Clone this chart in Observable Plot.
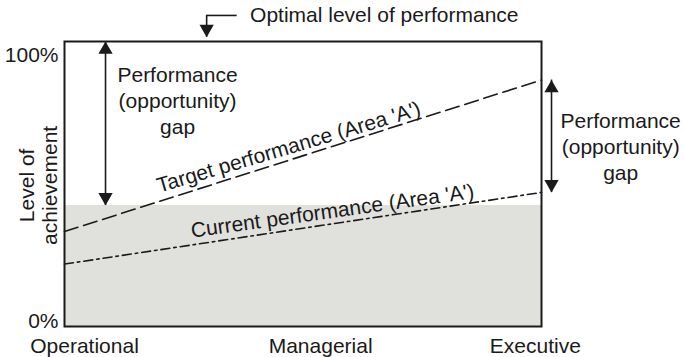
<!DOCTYPE html>
<html>
<head>
<meta charset="utf-8">
<script src="https://cdn.jsdelivr.net/npm/d3@7"></script>
<script src="https://cdn.jsdelivr.net/npm/@observablehq/plot@0.6"></script>
<style>
  html, body { margin: 0; padding: 0; background: #fff; }
  #chart svg { display: block; }
</style>
</head>
<body>
<div id="chart"></div>
<script>
// ---- data ----
const levels = ["Operational", "Managerial", "Executive"];
const levelTicks = [0.042, 0.537, 0.987];        // x positions (0 = Operational edge, 1 = Executive edge)
const levelEnds = [0, 1];
const targetPerformance = [35, 90.8];            // % of achievement at Operational / Executive
const currentPerformance = [23, 49.4];
const currentLevel = 44.6;                       // shaded area 'A' top
const optimalLevel = 105;                        // top of frame = optimal
const yTickTop = [100];
const yTickBottom = [0];
const gapLabel = "Performance\n(opportunity)\ngap";
const yTitle = "Level of\nachievement";
const optimalLabel = "Optimal level of performance";
const targetLabel = "Target performance (Area 'A')";
const currentLabel = "Current performance (Area 'A')";

const ink = "#1a1a1a";
const FS = 21;
const headR = 5.3;
const tip = 8.2;

const chart = Plot.plot({
  width: 684,
  height: 357,
  marginLeft: 64,
  marginRight: 143,
  marginTop: 41,
  marginBottom: 31,
  style: { fontFamily: "'Liberation Sans', Arial, sans-serif", color: ink, background: "#fff" },
  x: { domain: [0, 1], axis: null },
  y: { domain: [0, optimalLevel], axis: null },
  marks: [
    // shaded current area
    Plot.rect([currentLevel], { x1: () => 0, x2: () => 1, y1: () => 0, y2: d => d, fill: "#e0e0dc" }),
    // target (dashed)
    Plot.line(levelEnds, { x: d => d, y: (d, i) => targetPerformance[i], stroke: ink, strokeWidth: 1.6, strokeDasharray: "14,6" }),
    // current (dash-dot)
    Plot.line(levelEnds, { x: d => d, y: (d, i) => currentPerformance[i], stroke: ink, strokeWidth: 1.6, strokeDasharray: "9,4,2.5,4" }),
    // line labels
    Plot.text([targetLabel], { x: () => 0.47, y: () => 66, text: d => d, rotate: -16.5, fontSize: FS, fill: ink }),
    Plot.text([currentLabel], { x: () => 0.562, y: () => 42.5, text: d => d, rotate: -8, fontSize: FS, fill: ink }),
    // left gap arrow
    Plot.ruleX([0.086], { x: d => d, y1: () => optimalLevel, y2: () => currentLevel, stroke: ink, strokeWidth: 1.6 }),
    Plot.dot([optimalLevel], { x: () => 0.086, y: d => d, dy: tip, symbol: "triangle", r: headR, fill: ink, stroke: "none" }),
    Plot.dot([currentLevel], { x: () => 0.086, y: d => d, dy: -tip, rotate: 180, symbol: "triangle", r: headR, fill: ink, stroke: "none" }),
    Plot.text([gapLabel], { x: () => 0.237, y: () => 83.6, text: d => d, fontSize: FS, lineHeight: 1.25, fill: ink }),
    // right gap arrow
    Plot.ruleX([1.021], { x: d => d, y1: () => targetPerformance[1], y2: () => currentPerformance[1], stroke: ink, strokeWidth: 1.6 }),
    Plot.dot([targetPerformance[1]], { x: () => 1.021, y: d => d, dy: tip, symbol: "triangle", r: headR, fill: ink, stroke: "none" }),
    Plot.dot([currentPerformance[1]], { x: () => 1.021, y: d => d, dy: -tip, rotate: 180, symbol: "triangle", r: headR, fill: ink, stroke: "none" }),
    Plot.text([gapLabel], { x: () => 1.166, y: () => 66.7, text: d => d, fontSize: FS, lineHeight: 1.25, fill: ink }),
    // optimal level arrow
    Plot.ruleY([114.6], { y: d => d, x1: () => 0.298, x2: () => 0.362, stroke: ink, strokeWidth: 1.6 }),
    Plot.ruleX([0.298], { x: d => d, y1: () => 114.6, y2: () => 106.6, stroke: ink, strokeWidth: 1.6 }),
    Plot.dot([106.6], { x: () => 0.298, y: d => d, dy: -tip, rotate: 180, symbol: "triangle", r: headR, fill: ink, stroke: "none" }),
    Plot.text([optimalLabel], { x: () => 0.389, y: () => 114.6, text: d => d, textAnchor: "start", fontSize: FS, fill: ink }),
    // axes
    Plot.axisY(yTickTop, { tickSize: 0, tickPadding: 6, tickFormat: d => d + "%", fontSize: FS, fill: ink }),
    Plot.axisY(yTickBottom, { tickSize: 0, tickPadding: 6, dy: -5, tickFormat: d => d + "%", fontSize: FS, fill: ink }),
    Plot.text(levels, { x: (d, i) => levelTicks[i], y: () => 0, dy: 20, text: d => d, fontSize: FS, fill: ink }),
    Plot.text([yTitle], { x: () => -0.055, y: () => 52, text: d => d, rotate: -90, fontSize: FS, lineHeight: 1.1, fill: ink }),
    Plot.frame({ stroke: ink, strokeWidth: 2 })
  ]
});
document.getElementById("chart").appendChild(chart);
</script>
</body>
</html>
